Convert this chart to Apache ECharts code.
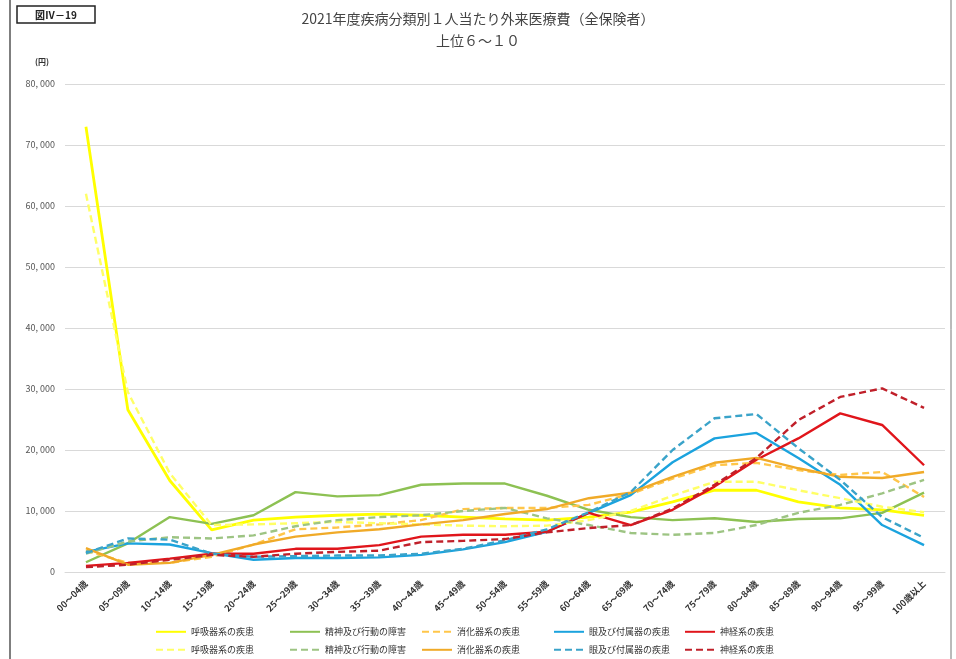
<!DOCTYPE html>
<html><head><meta charset="utf-8">
<script src="https://cdn.jsdelivr.net/npm/echarts@6/dist/echarts.min.js"></script>
<style>html,body{margin:0;padding:0;background:#fff}#c{width:956px;height:659px}</style>
</head><body><div id="c"></div>
<script>
const categories = ['00～04歳','05～09歳','10～14歳','15～19歳','20～24歳','25～29歳','30～34歳','35～39歳','40～44歳','45～49歳','50～54歳','55～59歳','60～64歳','65～69歳','70～74歳','75～79歳','80～84歳','85～89歳','90～94歳','95～99歳','100歳以上'];
const yTicks = [0,10000,20000,30000,40000,50000,60000,70000,80000];
const nameResp = '呼吸器系の疾患';
const nameMental = '精神及び行動の障害';
const nameDigest = '消化器系の疾患';
const nameEye = '眼及び付属器の疾患';
const nameNerve = '神経系の疾患';
const yellowSolid  = [73000,26600,15000,6900,8500,9000,9300,9500,9300,9000,8700,8500,9000,9800,11500,13400,13400,11500,10500,10200,9300];
const yellowDashed = [62000,29500,16200,7700,7800,8000,8200,8000,7800,7600,7500,7600,8500,10000,12500,14800,14800,13400,12100,10700,9800];
const greenSolid   = [1600,4700,9000,7900,9300,13100,12400,12600,14300,14500,14500,12500,10200,9000,8500,8800,8200,8700,8800,9700,13000];
const greenDashed  = [3000,5000,5700,5500,6000,7500,8500,9000,9300,10000,10500,8800,7700,6400,6100,6400,7700,9700,11000,12900,15100];
const orangeDashed = [3500,1500,1500,2500,4500,7000,7300,7800,8500,10300,10500,10500,11000,12800,15300,17500,17900,16700,15900,16400,12300];
const orangeSolid  = [3900,1200,1500,2800,4500,5800,6500,7000,7800,8500,9500,10300,12100,13000,15600,17900,18700,17000,15600,15400,16400];
const blueSolid    = [3300,4700,4500,3100,2000,2300,2300,2400,2800,3700,4900,6600,9700,12600,18000,21900,22800,18700,14300,7700,4400];
const blueDashed   = [3100,5500,5300,3000,2500,2600,2700,2700,3000,3800,5200,7000,9800,13100,20000,25200,25900,20300,15100,9000,5600];
const redSolid     = [1000,1500,2200,3000,3000,3800,3800,4400,5800,6100,6100,6600,9700,7700,10200,14000,18400,21900,26000,24100,17500];
const redDashed    = [800,1200,2000,2800,2500,3000,3300,3500,4900,5100,5400,6500,7200,7700,10400,14300,18700,24900,28700,30100,26900];

const Z = '\u200b';
function s(name, data, color, dashed, width){
  return {name:name, type:'line', data:data, symbol:'none', smooth:false,
    lineStyle:{color:color, width:width||2.4, type: dashed ? [7,4] : 'solid'},
    itemStyle:{color:color}};
}
const series = [
  s(nameResp, yellowSolid, '#FFFF00', false, 2.8),
  s(nameMental, greenSolid, '#8DC153', false),
  s(nameDigest, orangeDashed, '#FFC64A', true),
  s(nameEye, blueSolid, '#1BA3DE', false),
  s(nameNerve, redSolid, '#E0151B', false),
  s(nameResp+Z, yellowDashed, '#FFFF66', true),
  s(nameMental+Z, greenDashed, '#9DC483', true),
  s(nameDigest+Z, orangeSolid, '#F0AA28', false),
  s(nameEye+Z, blueDashed, '#3AA3C9', true),
  s(nameNerve+Z, redDashed, '#C0202A', true)
];
const colLeft = [155, 289, 421, 553, 684];
const rowTop = [627, 645];
const legends = series.map(function(se, i){
  return {orient:'horizontal', itemWidth:30, itemHeight:12, itemGap:4, padding:0,
    left: colLeft[i % 5], top: rowTop[Math.floor(i / 5)], data:[se.name], selectedMode:false,
    itemStyle:{opacity:0},
    textStyle:{fontSize:9, color:'#333', fontFamily:'Noto Sans CJK JP'}};
});
const chart = echarts.init(document.getElementById('c'));
chart.setOption({
  animation:false,
  backgroundColor:'#fff',
  textStyle:{fontFamily:'Noto Sans CJK JP'},
  grid:{left:65, right:11, top:84, bottom:87},
  legend:legends,
  xAxis:{type:'category', data:categories, boundaryGap:true,
    axisLine:{show:true, lineStyle:{color:'#d9d9d9'}}, axisTick:{show:false},
    axisLabel:{rotate:45, fontSize:9, color:'#333', fontWeight:'bold', margin:10, interval:0}},
  yAxis:{type:'value', min:0, max:80000, interval:10000,
    axisLine:{show:false}, axisTick:{show:false},
    splitLine:{lineStyle:{color:'#d9d9d9', width:1}},
    axisLabel:{fontSize:9, color:'#555', margin:10, formatter:function(v){
      if(v===0) return '0'; const t=Math.floor(v/1000); return t+', '+String(v%1000).padStart(3,'0');}}},
  graphic:[
    {type:'line', shape:{x1:10,y1:0,x2:10,y2:659}, style:{stroke:'#555', lineWidth:1.5}},
    {type:'line', shape:{x1:951,y1:0,x2:951,y2:659}, style:{stroke:'#777', lineWidth:1}},
    {type:'rect', shape:{x:17,y:6,width:78,height:17}, style:{fill:'#fff', stroke:'#222', lineWidth:1.5}},
    {type:'text', x:56, y:15, style:{text:'図Ⅳ－19', fontSize:10, fontWeight:'bold', fill:'#222', align:'center', verticalAlign:'middle', fontFamily:'Noto Sans CJK JP'}},
    {type:'text', x:478, y:19, style:{text:'2021年度疾病分類別１人当たり外来医療費（全保険者）', fontSize:14, fill:'#444', align:'center', verticalAlign:'middle', fontFamily:'Noto Sans CJK JP'}},
    {type:'text', x:478, y:41, style:{text:'上位６～１０', fontSize:14, fill:'#444', align:'center', verticalAlign:'middle', fontFamily:'Noto Sans CJK JP'}},
    {type:'text', x:42, y:62, style:{text:'(円)', fontSize:8, fontWeight:'bold', fill:'#333', align:'center', verticalAlign:'middle', fontFamily:'Noto Sans CJK JP'}}
  ],
  series:series
});
</script></body></html>
